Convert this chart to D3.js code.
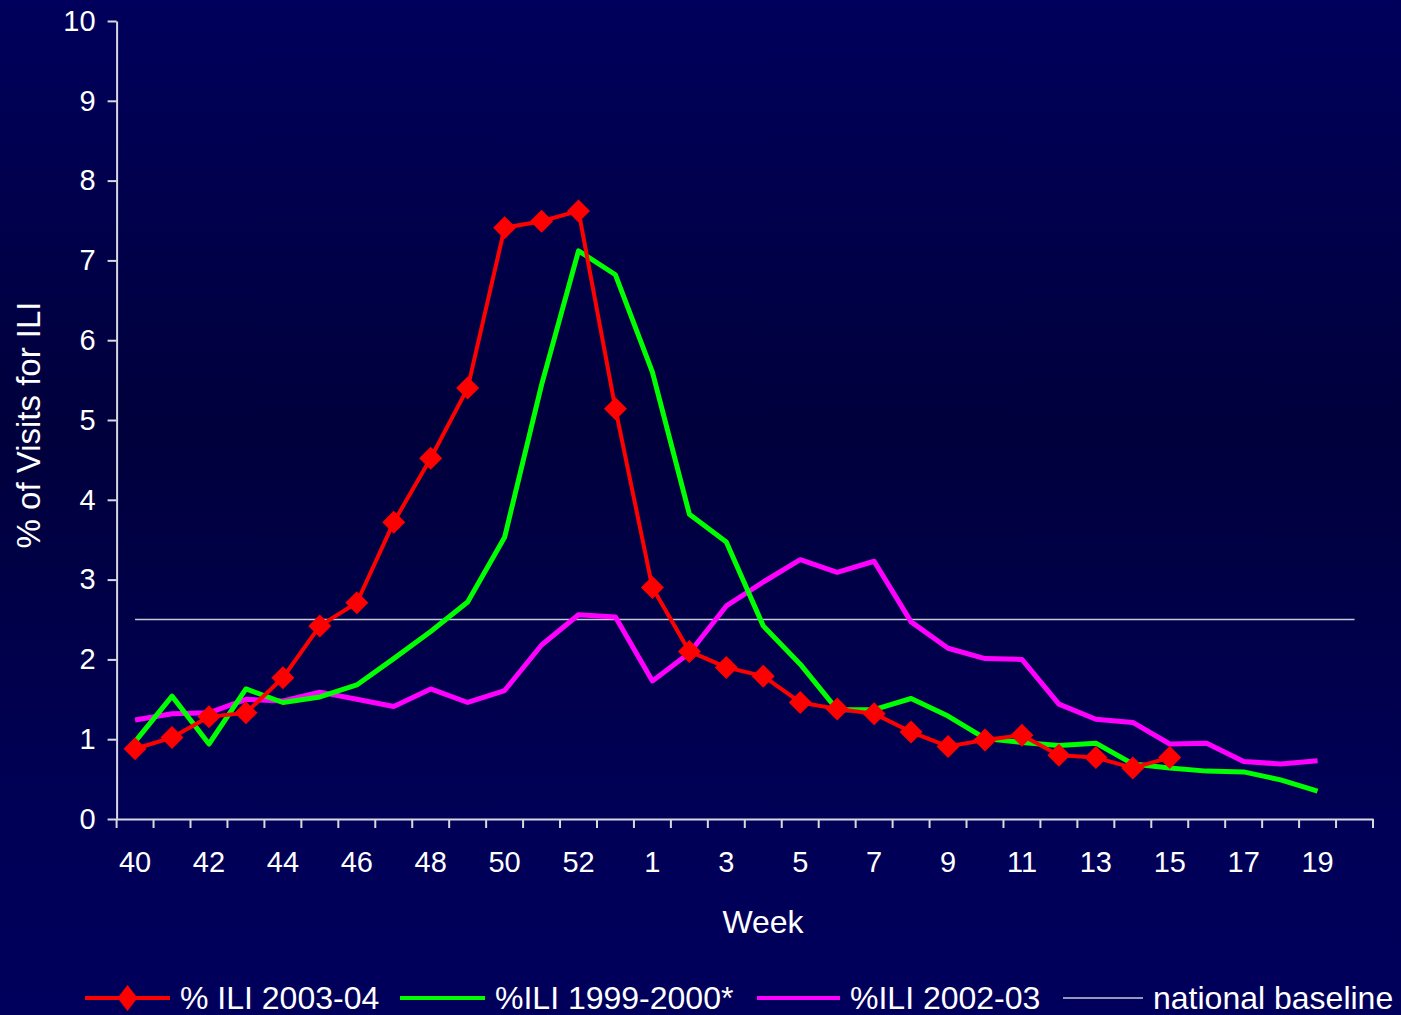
<!DOCTYPE html>
<html>
<head>
<meta charset="utf-8">
<script src="https://cdn.jsdelivr.net/npm/d3@7"></script>
<style>
  body { margin: 0; background: #00003c; }
  svg { display: block; font-family: "Liberation Sans", Arial, sans-serif; }
</style>
</head>
<body>
<svg id="drawing_region"></svg>
<script>
// weeks of the flu season (2003 had a week 53)
const weeks = ["40","41","42","43","44","45","46","47","48","49","50","51","52","53",
  "1","2","3","4","5","6","7","8","9","10","11","12","13","14","15","16","17","18","19","20"];
const shownWeeks = ["40","42","44","46","48","50","52","1","3","5","7","9","11","13","15","17","19"];
const yTicks = [0,1,2,3,4,5,6,7,8,9,10];

// % of visits for ILI
const ili0304 = [0.88,1.02,1.28,1.33,1.77,2.42,2.71,3.72,4.52,5.40,7.41,7.49,7.62,5.14,
  2.90,2.10,1.90,1.79,1.46,1.38,1.32,1.09,0.91,0.99,1.05,0.80,0.77,0.64,0.77];
const ili9900 = [0.97,1.54,0.94,1.63,1.46,1.53,1.68,2.01,2.35,2.72,3.53,5.44,7.12,6.82,
  5.60,3.82,3.47,2.42,1.94,1.37,1.37,1.51,1.29,1.01,0.96,0.92,0.95,0.69,0.64,0.60,0.59,0.49,0.35];
const ili0203 = [1.24,1.32,1.33,1.50,1.48,1.59,1.50,1.41,1.63,1.46,1.61,2.18,2.56,2.53,
  1.73,2.08,2.67,2.97,3.25,3.09,3.23,2.47,2.14,2.01,2.00,1.44,1.25,1.21,0.94,0.95,0.72,0.69,0.73];
const baseline = 2.5;

const seriesNames = ["% ILI 2003-04", "%ILI 1999-2000*", "%ILI 2002-03", "national baseline"];

const W = 1401, H = 1015;
const svg = d3.select('#drawing_region').attr('width', W).attr('height', H);

// background gradient
const grad = svg.append('defs').append('linearGradient')
  .attr('id', 'bg').attr('x1', 0).attr('y1', 0).attr('x2', 0).attr('y2', 1);
grad.append('stop').attr('offset', '0%').attr('stop-color', '#00005c');
grad.append('stop').attr('offset', '42%').attr('stop-color', '#00003c');
grad.append('stop').attr('offset', '80%').attr('stop-color', '#000056');
grad.append('stop').attr('offset', '100%').attr('stop-color', '#00005c');
svg.append('rect').attr('width', W).attr('height', H).attr('fill', 'url(#bg)');

const xscale = d3.scaleBand().domain(weeks).range([116.6, 1373]).padding(0);
const yscale = d3.scaleLinear().domain([0, 10]).range([819, 21]);
const cx = w => xscale(w) + xscale.bandwidth() / 2;

const axisColor = '#d8d8e0';

// y axis
const yaxis_group = svg.append('g')
  .attr('transform', `translate(${xscale.range()[0]},0)`)
  .call(d3.axisLeft(yscale).tickValues(yTicks).tickSize(9).tickSizeOuter(0).tickPadding(12));
yaxis_group.select('.domain').attr('stroke', axisColor).attr('stroke-width', 2);
yaxis_group.selectAll('.tick line').attr('stroke', axisColor).attr('stroke-width', 2);
yaxis_group.selectAll('.tick text').attr('fill', 'white').attr('font-size', '29px')
  .attr('font-family', '"Liberation Sans", Arial, sans-serif');

// x axis: labels at band centres, tick marks at band edges
const xaxis_group = svg.append('g')
  .attr('transform', `translate(0,${yscale(0)})`)
  .call(d3.axisBottom(xscale).tickValues(shownWeeks).tickSize(0).tickPadding(32));
xaxis_group.select('.domain').attr('stroke', axisColor).attr('stroke-width', 2);
xaxis_group.selectAll('.tick text').attr('fill', 'white').attr('font-size', '29px')
  .attr('font-family', '"Liberation Sans", Arial, sans-serif');
xaxis_group.selectAll('.edge')
  .data(weeks.concat(['end']))
  .join('line')
  .attr('class', 'edge')
  .attr('x1', w => w === 'end' ? xscale.range()[1] : xscale(w))
  .attr('x2', w => w === 'end' ? xscale.range()[1] : xscale(w))
  .attr('y1', 0).attr('y2', 9)
  .attr('stroke', axisColor).attr('stroke-width', 2);

// axis titles
svg.append('text')
  .attr('x', 763).attr('y', 933)
  .attr('text-anchor', 'middle').attr('fill', 'white').attr('font-size', '32px')
  .text('Week');
svg.append('text')
  .attr('transform', `translate(40,425) rotate(-90)`)
  .attr('text-anchor', 'middle').attr('fill', 'white').attr('font-size', '33px')
  .text('% of Visits for ILI');

const plot = svg.append('g');

// national baseline
plot.append('path')
  .datum(weeks)
  .attr('fill', 'none').attr('stroke', '#c8c8d8').attr('stroke-width', 1.5)
  .attr('d', d3.line().x(w => cx(w)).y(() => yscale(baseline)));

const line = d3.line().x((d, i) => cx(weeks[i])).y(d => yscale(d));

plot.append('path').datum(ili0203)
  .attr('fill', 'none').attr('stroke', '#ff00ff').attr('stroke-width', 5)
  .attr('stroke-linejoin', 'round').attr('d', line);
plot.append('path').datum(ili9900)
  .attr('fill', 'none').attr('stroke', '#00ff00').attr('stroke-width', 5)
  .attr('stroke-linejoin', 'round').attr('d', line);
plot.append('path').datum(ili0304)
  .attr('fill', 'none').attr('stroke', '#ff0000').attr('stroke-width', 4)
  .attr('stroke-linejoin', 'round').attr('d', line);

const diamond = (sx, sy) => `M0,${-sy}L${sx},0L0,${sy}L${-sx},0Z`;
plot.selectAll('.marker')
  .data(ili0304)
  .join('path')
  .attr('class', 'marker')
  .attr('transform', (d, i) => `translate(${cx(weeks[i])},${yscale(d)})`)
  .attr('d', diamond(11.5, 11.5))
  .attr('fill', '#ff0000');

// legend
const legend = svg.append('g').attr('transform', 'translate(0,998)');
const legendItems = [
  {name: seriesNames[0], color: '#ff0000', width: 4, x0: 85, x1: 170, marker: true},
  {name: seriesNames[1], color: '#00ff00', width: 4, x0: 400, x1: 485},
  {name: seriesNames[2], color: '#ff00ff', width: 4, x0: 757, x1: 840},
  {name: seriesNames[3], color: '#c8c8d8', width: 1.5, x0: 1063, x1: 1143}
];
legendItems.forEach(it => {
  legend.append('line')
    .attr('x1', it.x0).attr('x2', it.x1).attr('y1', 0).attr('y2', 0)
    .attr('stroke', it.color).attr('stroke-width', it.width);
  if (it.marker) {
    legend.append('path')
      .attr('transform', `translate(${(it.x0 + it.x1) / 2},0)`)
      .attr('d', diamond(10, 13)).attr('fill', it.color);
  }
  legend.append('text')
    .attr('x', it.x1 + 10).attr('y', 11)
    .attr('fill', 'white').attr('font-size', '32px')
    .text(it.name);
});
</script>
</body>
</html>
